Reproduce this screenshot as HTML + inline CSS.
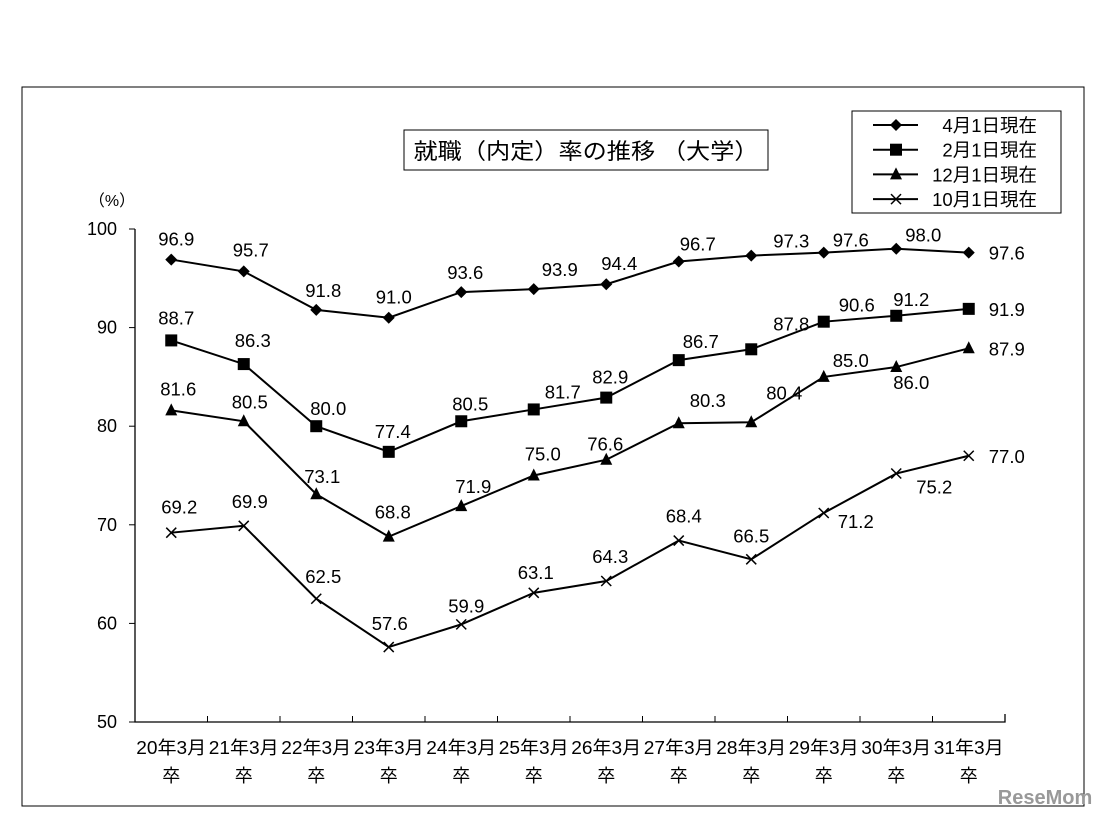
<!DOCTYPE html>
<html><head><meta charset="utf-8"><style>
body{margin:0;background:#fff;width:1099px;height:819px;overflow:hidden}
svg{font-family:"Liberation Sans","Noto Sans CJK JP",sans-serif}
</style></head><body>
<svg id="c" width="1099" height="819">
<rect x="22" y="87" width="1062" height="719" fill="none" stroke="#000" stroke-width="1"/>
<rect x="404" y="130" width="364" height="40" fill="#fff" stroke="#000"/>
<text x="586" y="159" font-size="22" text-anchor="middle" textLength="345" lengthAdjust="spacingAndGlyphs">就職（内定）率の推移 （大学）</text>
<text x="112" y="206" font-size="16" text-anchor="middle">（%）</text>
<g id="plot"></g>
<text x="1045" y="804" font-size="20" font-weight="bold" fill="#999" text-anchor="middle">ReseMom</text>
</svg>
<script>
const categories=["20年3月","21年3月","22年3月","23年3月","24年3月","25年3月","26年3月","27年3月","28年3月","29年3月","30年3月","31年3月"];
const apr=[96.9,95.7,91.8,91.0,93.6,93.9,94.4,96.7,97.3,97.6,98.0,97.6];
const feb=[88.7,86.3,80.0,77.4,80.5,81.7,82.9,86.7,87.8,90.6,91.2,91.9];
const dec=[81.6,80.5,73.1,68.8,71.9,75.0,76.6,80.3,80.4,85.0,86.0,87.9];
const oct=[69.2,69.9,62.5,57.6,59.9,63.1,64.3,68.4,66.5,71.2,75.2,77.0];
const seriesNames=["4月1日現在","2月1日現在","12月1日現在","10月1日現在"];
const yTicks=[50,60,70,80,90,100];
// label placement offsets (styling, not data)
const offX=[[5,7,7,5,4,26,13,19,40,27,27,0],[5,9,12,4,9,29,4,22,40,33,15,0],[7,6,6,4,12,9,-1,29,33,27,15,0],[8,6,7,1,5,2,4,5,0,32,38,0]];
const offY=[[-14,-15,-13,-14,-13,-13,-14,-11,-8,-6,-7,0],[-16,-17,-11,-14,-11,-11,-14,-12,-19,-10,-10,0],[-15,-13,-11,-18,-13,-15,-9,-16,-23,-10,22,0],[-19,-18,-16,-17,-12,-14,-18,-18,-17,15,20,0]];
const NS="http://www.w3.org/2000/svg";
const g=document.getElementById('plot');
const x0=135,x1=1005,yB=722,yT=229;
const bw=(x1-x0)/categories.length;
function X(i){return x0+bw*(i+0.5);}
function Y(v){return yB-(v-50)/50*(yB-yT);}
function el(t,a,txt){const e=document.createElementNS(NS,t);for(const k in a)e.setAttribute(k,a[k]);if(txt!==undefined)e.textContent=txt;g.appendChild(e);return e;}
let e=el('path',{d:`M${x0} ${yT}H${x0}V${yB}H${x1}V${yB-8}`,fill:'none',stroke:'#000','stroke-width':1.3});


yTicks.forEach(v=>{
 let l=el('line',{x1:x0-6,x2:x0,y1:Y(v),y2:Y(v),stroke:'#000'});
 
 
 let t=el('text',{x:x0-18,y:Y(v)+6,'font-size':18,'text-anchor':'end'},String(v));
 
 
});
categories.forEach((c,i)=>{
 if(i>0){let l=el('line',{x1:x0+bw*i,x2:x0+bw*i,y1:yB,y2:yB-6,stroke:'#000'});
 
 }
 let t=el('text',{x:X(i),y:754,'font-size':18,'text-anchor':'middle',textLength:70,lengthAdjust:'spacingAndGlyphs'},c);
 
 
 let t2=el('text',{x:X(i),y:782,'font-size':18,'text-anchor':'middle'},'卒');
 
 
});
function marker(type,x,y){
 let m;
 if(type==0)m=el('path',{d:`M${x} ${y-6}L${x+6} ${y}L${x} ${y+6}L${x-6} ${y}Z`,fill:'#000'});
 else if(type==1)m=el('rect',{x:x-6,y:y-6,width:12,height:12,fill:'#000'});
 else if(type==2)m=el('path',{d:`M${x} ${y-7}L${x+6} ${y+5}L${x-6} ${y+5}Z`,fill:'#000'});
 else m=el('path',{d:`M${x-5} ${y-5}L${x+5} ${y+5}M${x+5} ${y-5}L${x-5} ${y+5}`,stroke:'#000','stroke-width':1.5});
 return m;
}
const all=[apr,feb,dec,oct];
all.forEach((s,k)=>{
 let p=el('polyline',{points:s.map((v,i)=>X(i)+','+Y(v)).join(' '),fill:'none',stroke:'#000','stroke-width':2});
 
 
 s.forEach((v,i)=>{
  let m=marker(k,X(i),Y(v));
  
  
  let lx=X(i)+offX[k][i],ly=Y(v)+offY[k][i],anchor='middle';
  if(i==s.length-1){lx=X(i)+20;ly=Y(v)+7;anchor='start';}
  let t=el('text',{x:lx,y:ly,'font-size':18.5,'text-anchor':anchor},v.toFixed(1));
  
  
 });
});
let lb=el('rect',{x:852,y:111,width:209,height:102,fill:'#fff',stroke:'#000'});


seriesNames.forEach((n,k)=>{
 const y=125+k*24.7;
 let l=el('line',{x1:873,x2:918,y1:y,y2:y,stroke:'#000','stroke-width':2});
 
 
 let m=marker(k,896,y);
 
 
 let t=el('text',{x:1037,y:y+7,'font-size':18.5,'text-anchor':'end'},n);
 
 
});
</script>
</body></html>
